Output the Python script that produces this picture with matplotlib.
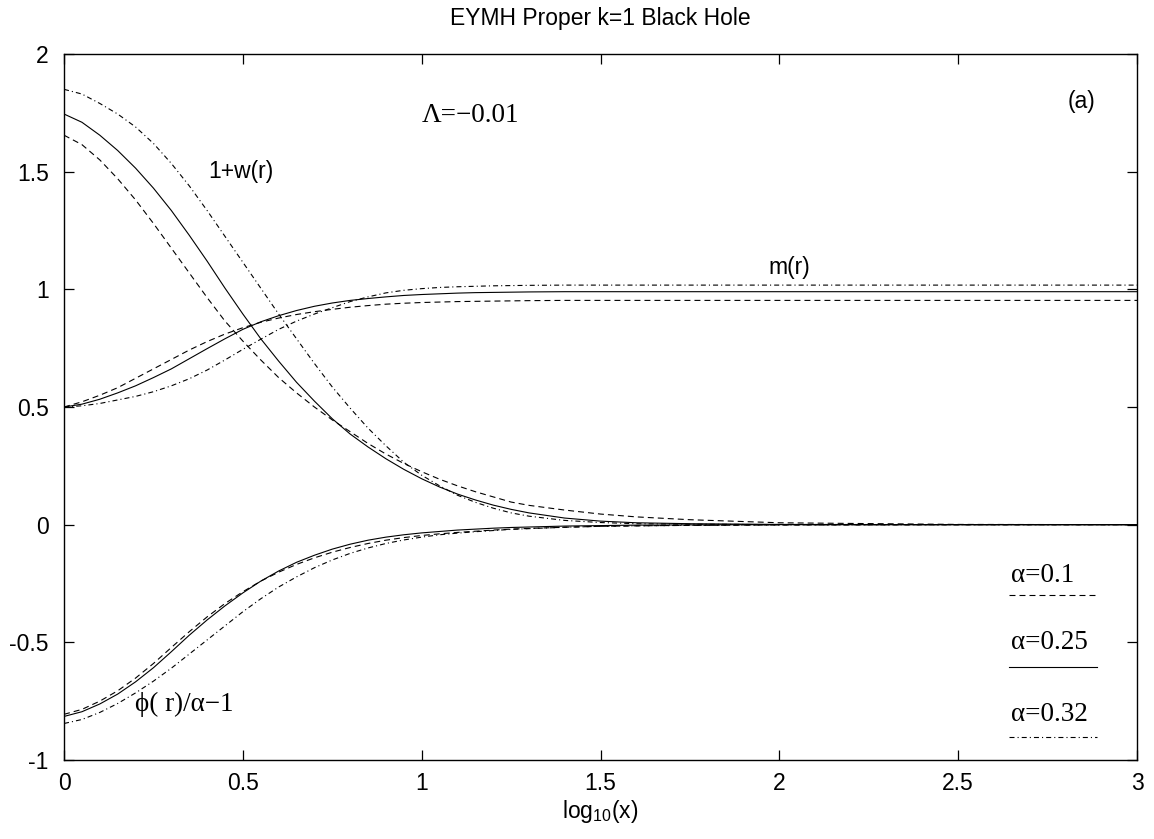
import matplotlib
matplotlib.use("Agg")
import matplotlib.pyplot as plt

# log10(x) sample positions shared by every curve
x = [0, 0.05, 0.1, 0.15, 0.2, 0.25, 0.3, 0.35, 0.4, 0.45, 0.5, 0.55, 0.6,
     0.65, 0.7, 0.75, 0.8, 0.85, 0.9, 0.95, 1.0, 1.05, 1.1, 1.15, 1.2, 1.25,
     1.3, 1.4, 1.5, 1.6, 1.75, 2.0, 2.5, 3.0]

# 1 + w(r)
w_a01 = [1.655, 1.615, 1.55, 1.47, 1.38, 1.28, 1.175, 1.07, 0.965, 0.865,
         0.78, 0.70, 0.625, 0.56, 0.5, 0.445, 0.395, 0.345, 0.3, 0.26,
         0.225, 0.193, 0.165, 0.14, 0.118, 0.096, 0.082,
         0.062, 0.045, 0.033, 0.021, 0.008, 0.001, 0.0]
w_a025 = [1.745, 1.71, 1.655, 1.59, 1.515, 1.43, 1.335, 1.23, 1.12, 1.005,
          0.895, 0.79, 0.695, 0.605, 0.525, 0.45, 0.385, 0.33, 0.28, 0.235,
          0.195, 0.16, 0.13, 0.105, 0.083, 0.065, 0.05,
          0.028, 0.015, 0.008, 0.004, 0.001, 0.0, 0.0]
w_a032 = [1.85, 1.83, 1.79, 1.745, 1.69, 1.62, 1.535, 1.44, 1.335, 1.225,
          1.115, 1.005, 0.895, 0.79, 0.685, 0.585, 0.495, 0.41, 0.335, 0.265,
          0.21, 0.165, 0.125, 0.095, 0.07, 0.05, 0.036,
          0.018, 0.009, 0.004, 0.002, 0.0, 0.0, 0.0]

# m(r)
m_a01 = [0.5, 0.522, 0.55, 0.582, 0.622, 0.662, 0.702, 0.742, 0.778, 0.81,
         0.837, 0.86, 0.878, 0.893, 0.905, 0.915, 0.924, 0.931, 0.937, 0.941,
         0.944, 0.946, 0.948, 0.949, 0.95, 0.951, 0.952,
         0.953, 0.953, 0.953, 0.953, 0.953, 0.953, 0.953]
m_a025 = [0.5, 0.512, 0.533, 0.56, 0.59, 0.625, 0.662, 0.705, 0.748, 0.79,
          0.83, 0.862, 0.888, 0.91, 0.928, 0.942, 0.953, 0.961, 0.968, 0.974,
          0.978, 0.981, 0.984, 0.986, 0.987, 0.988, 0.989,
          0.99, 0.99, 0.99, 0.99, 0.99, 0.99, 0.99]
m_a032 = [0.5, 0.505, 0.515, 0.53, 0.545, 0.565, 0.59, 0.62, 0.657, 0.7,
          0.745, 0.788, 0.83, 0.865, 0.895, 0.922, 0.948, 0.968, 0.985, 0.996,
          1.003, 1.008, 1.011, 1.013, 1.015, 1.016, 1.017,
          1.018, 1.018, 1.018, 1.018, 1.018, 1.018, 1.018]

# phi(r)/alpha - 1
phi_a01 = [-0.806, -0.785, -0.75, -0.706, -0.652, -0.59, -0.522, -0.455,
           -0.392, -0.335, -0.285, -0.24, -0.202, -0.169, -0.141, -0.117,
           -0.097, -0.08, -0.066, -0.055, -0.046, -0.039, -0.033, -0.028,
           -0.023, -0.019, -0.016,
           -0.011, -0.007, -0.005, -0.003, -0.001, 0.0, 0.0]
phi_a025 = [-0.815, -0.795, -0.762, -0.72, -0.668, -0.608, -0.54, -0.47,
            -0.405, -0.345, -0.29, -0.24, -0.197, -0.16, -0.13, -0.104,
            -0.083, -0.066, -0.053, -0.043, -0.035, -0.029, -0.023, -0.019,
            -0.015, -0.012, -0.01,
            -0.006, -0.004, -0.002, -0.001, 0.0, 0.0, 0.0]
phi_a032 = [-0.845, -0.828, -0.798, -0.76, -0.715, -0.665, -0.61, -0.55,
            -0.49, -0.43, -0.37, -0.315, -0.265, -0.222, -0.183, -0.15,
            -0.122, -0.099, -0.08, -0.065, -0.053, -0.043, -0.036, -0.03,
            -0.025, -0.02, -0.017,
            -0.011, -0.007, -0.005, -0.003, -0.001, 0.0, 0.0]

alpha_labels = ["α=0.1", "α=0.25", "α=0.32"]

plt.rcParams["font.family"] = ["Liberation Sans", "DejaVu Sans"]
plt.rcParams["axes.unicode_minus"] = False
plt.rcParams["mathtext.fontset"] = "custom"
plt.rcParams["mathtext.rm"] = "Liberation Sans"
plt.rcParams["mathtext.it"] = "Liberation Sans"
plt.rcParams["lines.scale_dashes"] = False

SERIF = ["Liberation Serif", "DejaVu Serif"]
FS = 16.5      # sans text
FS_SERIF = 19.5
styles = [
    (0, (4.3, 2.9)),                  # alpha = 0.1, dashed
    "solid",                          # alpha = 0.25
    (0, (3.6, 2.2, 0.8, 2.2)),        # alpha = 0.32, dash-dot
]
lw = 0.8

fig = plt.figure(figsize=(11.54, 8.39), dpi=100)
ax = fig.add_axes([0.0555, 0.0942, 0.9298, 0.8414])

groups = [
    (w_a01, w_a025, w_a032),
    (m_a01, m_a025, m_a032),
    (phi_a01, phi_a025, phi_a032),
]
for series in groups:
    for y, ls in zip(series, styles):
        ax.plot(x, y, color="black", lw=lw, linestyle=ls)

ax.set_xlim(0, 3)
ax.set_ylim(-1, 2)
ax.set_xticks([0, 0.5, 1, 1.5, 2, 2.5, 3])
ax.set_xticklabels(["0", "0.5", "1", "1.5", "2", "2.5", "3"])
ax.set_yticks([-1, -0.5, 0, 0.5, 1, 1.5, 2])
ax.set_yticklabels(["-1", "-0.5", "0", "0.5", "1", "1.5", "2"])
ax.tick_params(direction="in", length=7, width=0.9, top=True, right=True,
               labelsize=FS)
ax.tick_params(axis="x", pad=9)
ax.tick_params(axis="y", pad=11)
for sp in ax.spines.values():
    sp.set_linewidth(1.0)

ax.set_xlabel("log$_{10}$(x)", fontsize=FS, labelpad=2)
fig.text(0.5204, 0.978, "EYMH Proper k=1 Black Hole", ha="center",
         va="center", fontsize=FS)

# curve annotations
ax.text(1.0, 1.74, "Λ=−0.01", family=SERIF, fontsize=FS_SERIF, va="center")
ax.text(2.807, 1.80, "(a)", fontsize=FS, va="center")
ax.text(0.403, 1.50, "1+w(r)", fontsize=FS, va="center")
ax.text(1.969, 1.093, "m(r)", fontsize=FS, va="center")
ax.text(0.198, -0.766, "ϕ( r)/α−1", family=SERIF, fontsize=FS_SERIF,
        va="center")

# gnuplot-style key: label above a short line sample
key_text_y = [0.262, 0.166, 0.064]
key_line_y = [0.234, 0.132, 0.033]
for lab, ls, ty, ly in zip(alpha_labels, styles, key_text_y, key_line_y):
    ax.text(0.883, ty, lab, family=SERIF, fontsize=FS_SERIF, va="center",
            transform=ax.transAxes)
    ax.plot([0.881, 0.963], [ly, ly], color="black", lw=lw, linestyle=ls,
            transform=ax.transAxes)

fig.savefig("out.png", dpi=100)
